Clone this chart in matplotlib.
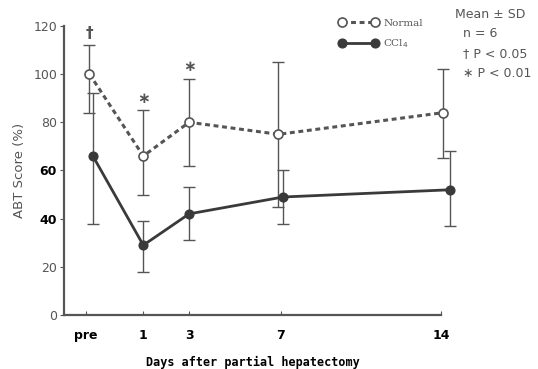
import matplotlib
matplotlib.use('Agg')
import matplotlib.pyplot as plt

# days after partial hepatectomy (pre = -1.5 on the day scale)
tick_pos = [-1.5, 1, 3, 7, 14]
tick_labels = ['pre', '1', '3', '7', '14']

# plotted x positions (points are drawn slightly staggered)
normal_x = [-1.35, 1.0, 3.0, 6.9, 14.1]
ccl4_x = [-1.2, 1.0, 3.0, 7.1, 14.4]

# ABT score (%), mean with upper / lower SD limits
normal_mean = [100, 66, 80, 75, 84]
normal_hi = [112, 85, 98, 105, 102]
normal_lo = [84, 50, 62, 45, 65]

ccl4_mean = [66, 29, 42, 49, 52]
ccl4_hi = [92, 39, 53, 60, 68]
ccl4_lo = [38, 18, 31, 38, 37]

# significance marks: (x, y, symbol)
marks = [(-1.35, 117, '†'), (1.0, 90, '∗'), (3.0, 103, '∗')]

fig = plt.figure(figsize=(5.38, 3.69), dpi=100)
ax = fig.add_axes([0.119, 0.146, 0.701, 0.784])

grey = '#555555'
dark = '#3a3a3a'

def draw(x, mean, hi, lo, **kw):
    err = [[m - l for m, l in zip(mean, lo)], [h - m for m, h in zip(mean, hi)]]
    ax.errorbar(x, mean, yerr=err, fmt='none', ecolor=grey, elinewidth=1.0,
                capsize=4.5, capthick=1.0, clip_on=False, zorder=2)
    return ax.plot(x, mean, clip_on=False, zorder=3, **kw)[0]

h_ccl4 = draw(ccl4_x, ccl4_mean, ccl4_hi, ccl4_lo, color=dark, lw=2.0,
              marker='o', ms=6.3, mfc=dark, mec=dark, label='CCl$_4$')
h_norm = draw(normal_x, normal_mean, normal_hi, normal_lo, color=grey, lw=2.2,
              ls=(0, (1.6, 1.2)), marker='o', ms=6.5, mfc='white', mec=grey,
              mew=1.2, label='Normal')

for x, y, s in marks:
    ax.text(x, y, s, ha='center', va='center', fontsize=11, color=grey,
            fontweight='bold')

ax.set_xlim(-2.46, 14)
ax.set_ylim(0, 120)
ax.spines['top'].set_visible(False)
ax.spines['right'].set_visible(False)
for sp in ('left', 'bottom'):
    ax.spines[sp].set_color(grey)
    ax.spines[sp].set_linewidth(1.6)

ax.set_xticks(tick_pos)
ax.set_xticklabels(tick_labels, fontsize=9, fontweight='bold')
ax.tick_params(axis='x', direction='in', length=3, color=grey, pad=10)
ax.set_yticks(range(0, 121, 20))
ax.tick_params(axis='y', direction='out', length=3, color=grey, labelsize=9,
               labelcolor=grey, pad=2)
for lab in ax.get_yticklabels():
    if lab.get_text() in ('40', '60'):
        lab.set_color('black')
        lab.set_fontweight('bold')

ax.set_ylabel('ABT Score (%)', fontsize=9.5, color=grey, labelpad=5)
ax.set_xlabel('Days after partial hepatectomy', family='DejaVu Sans Mono',
              fontweight='bold', fontsize=8.5, labelpad=10)

leg = fig.legend([h_norm, h_ccl4], ['Normal', 'CCl$_4$'], numpoints=2,
                 loc='upper left', bbox_to_anchor=(0.612, 0.975), frameon=False,
                 handlelength=3.8, handletextpad=0.5, labelspacing=0.9,
                 prop={'family': 'DejaVu Serif', 'size': 7.5})
for t in leg.get_texts():
    t.set_color(grey)

info = ['Mean ± SD', '  n = 6', '  † P < 0.05', '  ∗ P < 0.01']
for i, s in enumerate(info):
    fig.text(0.845, 0.962 - i * 0.054, s, fontsize=9, color=grey,
             va='center', ha='left')

fig.savefig('out.png', dpi=100)
